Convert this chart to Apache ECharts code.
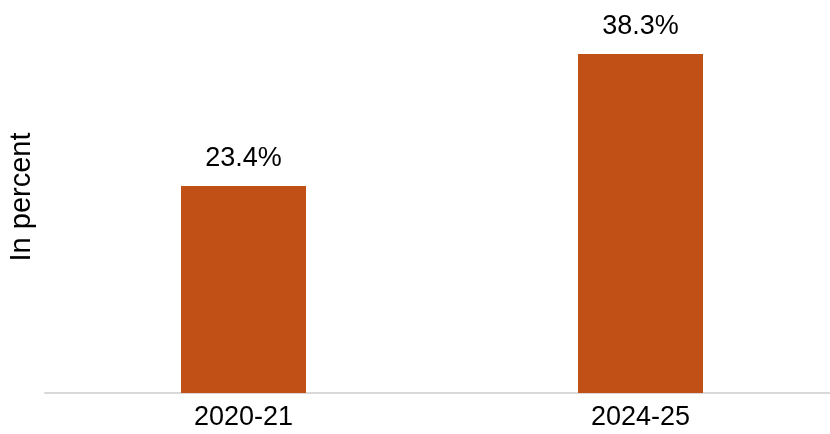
<!DOCTYPE html>
<html>
<head>
<meta charset="utf-8">
<script src="https://cdn.jsdelivr.net/npm/echarts@6/dist/echarts.min.js"></script>
<style>
  html, body { margin: 0; padding: 0; background: #fff; }
  #main { width: 830px; height: 434px; }
</style>
</head>
<body>
<div id="main"></div>
<script>
  const categories = ['2020-21', '2024-25'];
  const shareValues = [23.4, 38.3];
  const axisTitle = 'In percent';

  var chartDom = document.getElementById('main');
  var myChart = echarts.init(chartDom, null, { renderer: 'canvas' });

  var option = {
    animation: false,
    grid: {
      left: 45,
      width: 794, // runs a bit past the right edge, like the original
      top: 39,
      bottom: 41,
      outerBoundsMode: 'none',
      containLabel: false
    },
    graphic: [
      {
        type: 'text',
        rotation: Math.PI / 2,
        x: 22,
        y: 197,
        style: {
          text: axisTitle,
          fontFamily: 'Liberation Sans',
          fontSize: 29,
          fill: '#000',
          align: 'center',
          verticalAlign: 'middle'
        }
      }
    ],
    xAxis: {
      type: 'category',
      data: categories,
      axisTick: { show: false },
      axisLine: {
        show: true,
        lineStyle: { color: '#d9d9d9', width: 2 }
      },
      axisLabel: {
        fontFamily: 'Liberation Sans',
        fontSize: 27,
        color: '#000',
        margin: 11
      }
    },
    yAxis: {
      type: 'value',
      min: 0,
      max: 40,
      show: false
    },
    series: [
      {
        name: 'Share',
        type: 'bar',
        data: shareValues,
        barWidth: 125,
        itemStyle: { color: '#c05016' },
        label: {
          show: true,
          position: 'top',
          distance: 14,
          formatter: '{c}%',
          fontFamily: 'Liberation Sans',
          fontSize: 27,
          color: '#000'
        }
      }
    ]
  };

  option && myChart.setOption(option);
</script>
</body>
</html>
